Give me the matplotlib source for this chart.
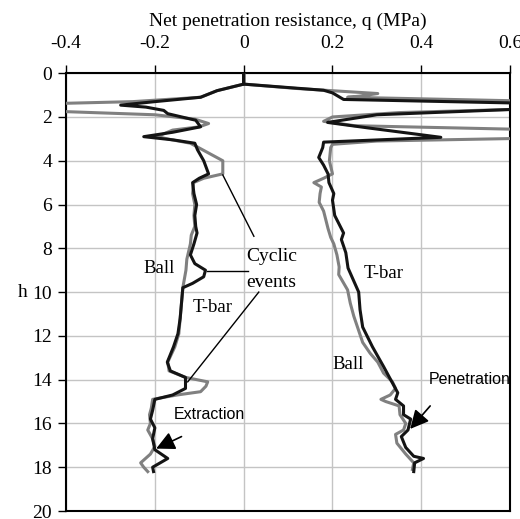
import matplotlib
matplotlib.use("Agg")
import matplotlib.pyplot as plt
from matplotlib.patches import FancyArrowPatch

# Ball test, extraction (negative resistance)
ball_ext_depth = [0.0, 0.5, 0.8, 1.1, 1.3, 1.45, 1.65, 1.9, 2.1, 2.3, 2.45, 2.6, 2.9, 3.05,
                  3.2, 3.45, 4.0, 4.6, 4.8, 5.0, 5.5, 6.0, 6.5, 7.0, 7.4, 7.8, 8.5, 9.0,
                  9.8, 10.5, 11.2, 11.9, 12.5, 13.2, 13.6, 13.9, 14.1, 14.3, 14.55, 14.7,
                  14.9, 15.3, 15.6, 16.0, 16.3, 16.7, 17.05, 17.4, 17.8, 18.0, 18.2]
ball_ext_q = [0.0, 0.0, -0.06, -0.097, -0.25, -0.55, -0.55, -0.2, -0.11, -0.079, -0.1, -0.16,
              -0.195, -0.16, -0.12, -0.097, -0.047, -0.047, -0.09, -0.113, -0.115, -0.11,
              -0.112, -0.11, -0.118, -0.12, -0.128, -0.13, -0.137, -0.14, -0.143, -0.146,
              -0.155, -0.171, -0.168, -0.13, -0.081, -0.085, -0.097, -0.15, -0.205, -0.208,
              -0.212, -0.21, -0.216, -0.205, -0.2, -0.21, -0.232, -0.225, -0.216]

# T-bar test, extraction
tbar_ext_depth = [0.0, 0.5, 0.8, 1.1, 1.3, 1.46, 1.55, 1.7, 1.85, 2.15, 2.45, 2.7, 2.9, 3.05,
                  3.2, 3.5, 4.0, 4.6, 4.8, 5.0, 5.5, 6.0, 6.5, 7.0, 7.3, 7.8, 8.3, 8.7, 9.0,
                  9.3, 9.6, 9.8, 10.5, 11.2, 11.9, 12.5, 13.2, 13.6, 13.9, 14.4, 14.7, 14.9,
                  15.4, 15.8, 16.2, 16.7, 17.2, 17.6, 18.0, 18.2]
tbar_ext_q = [0.0, 0.0, -0.06, -0.097, -0.2, -0.277, -0.22, -0.18, -0.171, -0.108, -0.097,
              -0.16, -0.225, -0.158, -0.11, -0.104, -0.09, -0.079, -0.1, -0.115, -0.112,
              -0.106, -0.11, -0.108, -0.105, -0.112, -0.12, -0.11, -0.086, -0.09, -0.115,
              -0.137, -0.14, -0.143, -0.148, -0.158, -0.172, -0.165, -0.131, -0.131, -0.16,
              -0.2, -0.205, -0.21, -0.2, -0.205, -0.2, -0.171, -0.205, -0.203]

# Ball test, penetration
ball_pen_depth = [0.0, 0.5, 0.7, 0.93, 1.05, 1.1, 1.3, 1.6, 1.8, 2.0, 2.2, 2.4, 2.6, 2.95,
                  3.1, 3.25, 3.4, 4.0, 4.6, 4.8, 5.0, 5.2, 5.5, 5.9, 6.3, 6.7, 7.1, 7.5,
                  7.8, 8.3, 8.85, 9.2, 9.9, 10.5, 11.1, 11.7, 12.3, 12.8, 13.2, 13.7, 14.1,
                  14.4, 14.7, 14.9, 15.0, 15.2, 15.6, 16.0, 16.3, 16.5, 16.9, 17.4, 17.8, 18.1]
ball_pen_q = [0.0, 0.0, 0.12, 0.302, 0.26, 0.234, 0.7, 0.7, 0.35, 0.2, 0.18, 0.25, 0.7, 0.7,
              0.3, 0.2, 0.196, 0.193, 0.2, 0.18, 0.158, 0.175, 0.172, 0.17, 0.18, 0.185,
              0.19, 0.196, 0.203, 0.21, 0.215, 0.214, 0.234, 0.24, 0.248, 0.258, 0.268,
              0.285, 0.302, 0.315, 0.335, 0.342, 0.33, 0.309, 0.32, 0.35, 0.352, 0.365,
              0.36, 0.342, 0.345, 0.365, 0.383, 0.38]

# T-bar test, penetration
tbar_pen_depth = [0.0, 0.5, 0.78, 0.9, 1.2, 1.4, 1.58, 1.9, 2.25, 2.5, 2.93, 3.15, 3.4, 3.85,
                  4.2, 4.6, 5.0, 5.5, 5.8, 6.5, 7.3, 7.6, 8.2, 8.9, 10.0, 10.8, 11.6, 12.5,
                  13.4, 14.0, 14.6, 14.9, 15.2, 15.6, 15.8, 16.3, 16.6, 17.1, 17.5, 17.6,
                  17.8, 18.2]
tbar_pen_q = [0.0, 0.0, 0.18, 0.2, 0.225, 0.7, 0.7, 0.3, 0.189, 0.28, 0.444, 0.18, 0.178,
              0.169, 0.18, 0.19, 0.192, 0.203, 0.2, 0.205, 0.225, 0.22, 0.23, 0.235, 0.259,
              0.262, 0.268, 0.29, 0.315, 0.331, 0.347, 0.342, 0.36, 0.36, 0.376, 0.37,
              0.355, 0.365, 0.383, 0.405, 0.385, 0.383]

x_ticks = [-0.4, -0.2, 0, 0.2, 0.4, 0.6]
x_tick_labels = ["-0.4", "-0.2", "0", "0.2", "0.4", "0.6"]
y_ticks = [0, 2, 4, 6, 8, 10, 12, 14, 16, 18, 20]

serif = "Liberation Serif"
sans = "Liberation Sans"
GRAY = "#808080"
BLACK = "#141414"

fig = plt.figure(figsize=(5.20, 5.19), dpi=100)
ax = fig.add_axes([0.127, 0.0154, 0.854, 0.8436])

lw = 2.2
ax.plot(ball_ext_q, ball_ext_depth, color=GRAY, lw=lw, zorder=3)
ax.plot(tbar_ext_q, tbar_ext_depth, color=BLACK, lw=lw, zorder=4)
ax.plot(ball_pen_q, ball_pen_depth, color=GRAY, lw=lw, zorder=3)
ax.plot(tbar_pen_q, tbar_pen_depth, color=BLACK, lw=lw, zorder=4)

ax.set_xlim(-0.4, 0.6)
ax.set_ylim(20, 0)
ax.xaxis.tick_top()
ax.xaxis.set_label_position("top")
ax.set_xticks(x_ticks)
ax.set_xticklabels(x_tick_labels)
ax.set_yticks(y_ticks)
ax.tick_params(axis="x", direction="out", length=6, width=1, pad=9,
               labelsize=14, colors="black")
ax.tick_params(axis="y", direction="out", length=6, width=1, pad=4,
               labelsize=14)
for lab in ax.get_xticklabels() + ax.get_yticklabels():
    lab.set_family(serif)
ax.grid(True, color="#c4c4c4", lw=1.0, zorder=0)
for s in ax.spines.values():
    s.set_linewidth(1.5)
    s.set_color("black")

ax.set_xlabel("Net penetration resistance, q (MPa)", family=serif, fontsize=14, labelpad=7)
ax.set_ylabel("h", family=serif, fontsize=14, rotation=0, labelpad=7, va="center")

# curve labels
ax.text(-0.191, 8.9, "Ball", family=serif, fontsize=13.5, ha="center", va="center")
ax.text(-0.07, 10.7, "T-bar", family=serif, fontsize=13.5, ha="center", va="center")
ax.text(0.316, 9.15, "T-bar", family=serif, fontsize=13.5, ha="center", va="center")
ax.text(0.236, 13.3, "Ball", family=serif, fontsize=13.5, ha="center", va="center")
ax.text(0.063, 8.95, "Cyclic\nevents", family=serif, fontsize=14, ha="center", va="center",
        linespacing=1.7)

# leader lines to the cyclic events
leaders = [((-0.047, 4.65), (0.023, 7.45)),
           ((-0.083, 9.05), (0.009, 9.05)),
           ((-0.126, 14.1), (0.034, 10.0))]
for (p0, p1) in leaders:
    ax.plot([p0[0], p1[0]], [p0[1], p1[1]], color="black", lw=1.0, zorder=5)

ax.text(-0.158, 15.6, "Extraction", family=sans, fontsize=11.5, ha="left", va="center")
ax.text(0.417, 14.0, "Penetration", family=sans, fontsize=11.5, ha="left", va="center")

for tail, tip in [((-0.14, 16.6), (-0.197, 17.15)), ((0.42, 15.2), (0.375, 16.25))]:
    ax.add_patch(FancyArrowPatch(tail, tip, arrowstyle="-|>", mutation_scale=28,
                                 color="black", lw=1.2, zorder=6, shrinkA=0, shrinkB=0))

fig.savefig("out.png", dpi=100)
